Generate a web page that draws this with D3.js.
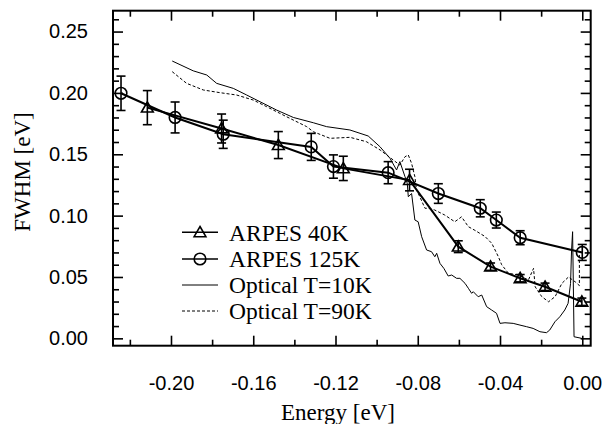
<!DOCTYPE html>
<html><head><meta charset="utf-8">
<script src="https://cdn.jsdelivr.net/npm/d3@7"></script>
<style>body{margin:0;background:#fff}svg{display:block}</style>
</head><body><svg id="c" width="603" height="424"></svg>
<script>
// ---- data ----
const arpes40E   = [-0.2115, -0.1754, -0.1478, -0.1162, -0.0840, -0.0603, -0.0446, -0.0302, -0.0181, -0.0002];
const arpes40W   = [ 0.188,   0.171,   0.1575,  0.1385,  0.129,   0.0747,  0.0584,  0.049,   0.042,   0.0298];
const arpes40Err = [ 0.0139,  0.0118,  0.011,   0.0099,  0.0088,  0.0048,  0.003,   0.003,   0.003,   0.003];

const arpes125E   = [-0.2243, -0.198, -0.1746, -0.1318, -0.121, -0.0944, -0.070, -0.0496, -0.0418, -0.0302, 0.000];
const arpes125W   = [ 0.1997,  0.180,  0.1663,  0.156,   0.140,  0.135,   0.118,  0.106,   0.0964,  0.082,   0.070];
const arpes125Err = [ 0.014,   0.0126, 0.0115,  0.011,   0.0095, 0.009,   0.008,  0.007,   0.0065,  0.0057,  0.0065];

const opt10E = [-0.1994,-0.1892,-0.1826,-0.1778,-0.1697,-0.1632,-0.1567,-0.1486,-0.1405,-0.1308,-0.1243,-0.1130,-0.1041,-0.0984,-0.0935,-0.0903,
  -0.0887,-0.0862,-0.0851,-0.0846,-0.0830,-0.0814,-0.0798,-0.0781,-0.0757,-0.0733,-0.0717,-0.0708,-0.0692,-0.0673,-0.0652,-0.0635,-0.0611,-0.0595,
  -0.0570,-0.0554,-0.0538,-0.0530,-0.0506,-0.0489,-0.0465,-0.0441,-0.0417,-0.0400,-0.0376,-0.0336,-0.0303,-0.0271,-0.0239,-0.0206,-0.0174,-0.0158,
  -0.0133,-0.0109,-0.0085,-0.0069,-0.0057,-0.0052,-0.0047,-0.0040,-0.0003];
const opt10W = [0.226,0.218,0.2146,0.2078,0.2037,0.1983,0.1928,0.186,0.180,0.1757,0.1725,0.1698,0.1649,0.1562,0.1467,0.1372,
  0.144,0.1317,0.1263,0.1154,0.118,0.0964,0.095,0.0828,0.072,0.0706,0.0665,0.0693,0.0611,0.057,0.0508,0.0516,0.0489,0.0489,
  0.0448,0.0408,0.0367,0.038,0.0339,0.0353,0.0258,0.0231,0.0204,0.0122,0.0127,0.0122,0.0108,0.0095,0.0081,0.0054,0.0046,0.0068,
  0.0135,0.0176,0.0231,0.0285,0.0448,0.072,0.0869,0.0013,0.0];

const opt90E = [-0.1994,-0.1924,-0.1843,-0.1762,-0.1681,-0.1600,-0.1535,-0.1438,-0.1340,-0.1308,-0.1227,-0.1129,-0.1049,-0.0983,-0.0919,-0.0887,
  -0.0862,-0.0846,-0.0830,-0.0814,-0.0806,-0.0790,-0.0765,-0.0750,-0.0718,-0.0669,-0.0620,-0.0587,-0.0554,-0.0522,-0.0473,-0.0440,-0.0408,-0.0392,
  -0.0359,-0.0310,-0.0262,-0.0237,-0.0229,-0.0197,-0.0164,-0.0132,-0.0099,-0.0067,-0.0034,-0.0014,-0.0014];
const opt90W = [0.2173,0.2078,0.2024,0.2002,0.1983,0.1942,0.1888,0.1806,0.1725,0.1684,0.163,0.1638,0.1602,0.1535,0.1453,0.1412,
  0.148,0.1494,0.1426,0.1317,0.1209,0.1154,0.106,0.106,0.1046,0.1005,0.095,0.099,0.091,0.088,0.083,0.0774,0.0665,0.060,
  0.053,0.0516,0.0475,0.057,0.042,0.034,0.0298,0.034,0.0448,0.050,0.046,0.043,0.068];

const xMajorTicks = [-0.20, -0.16, -0.12, -0.08, -0.04, 0.00];
const xMinorTicks = [-0.22, -0.18, -0.14, -0.10, -0.06, -0.02];
const yMajorTicks = [0.00, 0.05, 0.10, 0.15, 0.20, 0.25];
const yMinorTicks = [0.01,0.02,0.03,0.04,0.06,0.07,0.08,0.09,0.11,0.12,0.13,0.14,0.16,0.17,0.18,0.19,0.21,0.22,0.23,0.24,0.26];
const legendLabels = ["ARPES 40K", "ARPES 125K", "Optical T=10K", "Optical T=90K"];

// ---- drawing ----
const L = 113, R = 590.7, T = 10.7, B = 345.7;
const svg = d3.select("#c");
const x = d3.scaleLinear().domain([-0.2282, 0.0041]).range([L, R]);
const y = d3.scaleLinear().domain([-0.006, 0.267]).range([B, T]);
const fmt = v => (Math.abs(v) < 1e-9 ? 0 : v).toFixed(2);

function axis(gen, tr, ticks, size, labels, pad) {
  const g = svg.append("g").attr("transform", tr)
    .call(gen.tickValues(ticks).tickSizeInner(size).tickSizeOuter(0).tickPadding(pad)
      .tickFormat(labels ? fmt : () => ""));
  g.select(".domain").remove();
  g.selectAll("line").attr("stroke", "#000").attr("stroke-width", 1.6);
  g.selectAll("text").attr("font-family", "Liberation Sans, Arial, sans-serif").attr("font-size", 20).attr("fill", "#000");
  return g;
}
axis(d3.axisBottom(x), `translate(0,${B})`, xMajorTicks, -10, true, 30);
axis(d3.axisBottom(x), `translate(0,${B})`, xMinorTicks, -6, false, 0);
axis(d3.axisTop(x), `translate(0,${T})`, xMajorTicks, -10, false, 0);
axis(d3.axisTop(x), `translate(0,${T})`, xMinorTicks, -6, false, 0);
axis(d3.axisLeft(y), `translate(${L},0)`, yMajorTicks, -10, true, 25);
axis(d3.axisLeft(y), `translate(${L},0)`, yMinorTicks, -6, false, 0);
axis(d3.axisRight(y), `translate(${R},0)`, yMajorTicks, -10, false, 0);
axis(d3.axisRight(y), `translate(${R},0)`, yMinorTicks, -6, false, 0);

svg.append("rect").attr("x", L).attr("y", T).attr("width", R - L).attr("height", B - T)
  .attr("fill", "none").attr("stroke", "#000").attr("stroke-width", 2);

const line = d3.line().x(d => x(d[0])).y(d => y(d[1]));
const zip = (a, b) => a.map((v, i) => [v, b[i]]);

svg.append("path").datum(zip(opt10E, opt10W)).attr("d", line)
  .attr("fill", "none").attr("stroke", "#000").attr("stroke-width", 1);
svg.append("path").datum(zip(opt90E, opt90W)).attr("d", line)
  .attr("fill", "none").attr("stroke", "#000").attr("stroke-width", 1).attr("stroke-dasharray", "3,2");

const tri = d3.symbol().type(d3.symbolTriangle).size(60);
function series(E, W, Err, marker) {
  const pts = zip(E, W);
  svg.append("path").datum(pts).attr("d", line).attr("fill", "none").attr("stroke", "#000").attr("stroke-width", 2);
  const g = svg.append("g").attr("stroke", "#000").attr("fill", "none").attr("stroke-width", 1.6);
  pts.forEach((p, i) => {
    const cx = x(p[0]), top = y(p[1] + Err[i]), bot = y(p[1] - Err[i]);
    g.append("line").attr("x1", cx).attr("x2", cx).attr("y1", top).attr("y2", bot);
    g.append("line").attr("x1", cx - 4.5).attr("x2", cx + 4.5).attr("y1", top).attr("y2", top);
    g.append("line").attr("x1", cx - 4.5).attr("x2", cx + 4.5).attr("y1", bot).attr("y2", bot);
    if (marker === "c") g.append("circle").attr("cx", cx).attr("cy", y(p[1])).attr("r", 5.8);
    else g.append("path").attr("d", tri).attr("transform", `translate(${cx},${y(p[1]) + 1})`);
  });
}
series(arpes40E, arpes40W, arpes40Err, "t");
series(arpes125E, arpes125W, arpes125Err, "c");

// legend
const lg = svg.append("g");
const rows = [232.3, 259, 285, 311];
rows.forEach((ry, i) => {
  const ln = lg.append("line").attr("x1", 182).attr("x2", 218).attr("y1", ry).attr("y2", ry)
    .attr("stroke", "#000").attr("stroke-width", i < 2 ? 1.6 : 1);
  if (i === 3) ln.attr("stroke-dasharray", "3,2");
  if (i === 0) lg.append("path").attr("d", tri).attr("transform", `translate(200,${ry + 1})`)
    .attr("fill", "none").attr("stroke", "#000").attr("stroke-width", 1.6);
  if (i === 1) lg.append("circle").attr("cx", 200).attr("cy", ry).attr("r", 5.8)
    .attr("fill", "none").attr("stroke", "#000").attr("stroke-width", 1.6);
  lg.append("text").attr("x", 229).attr("y", ry).attr("dy", "0.35em")
    .attr("font-family", "Liberation Serif, Times New Roman, serif").attr("font-size", 23.5)
    .text(legendLabels[i]);
});

svg.append("text").attr("x", 338).attr("y", 412).attr("dy", "0.35em").attr("text-anchor", "middle")
  .attr("font-family", "Liberation Serif, Times New Roman, serif").attr("font-size", 23).text("Energy [eV]");
svg.append("text").attr("transform", `translate(22,172) rotate(-90)`).attr("dy", "0.35em").attr("text-anchor", "middle")
  .attr("font-family", "Liberation Serif, Times New Roman, serif").attr("font-size", 23).text("FWHM [eV]");
</script></body></html>
